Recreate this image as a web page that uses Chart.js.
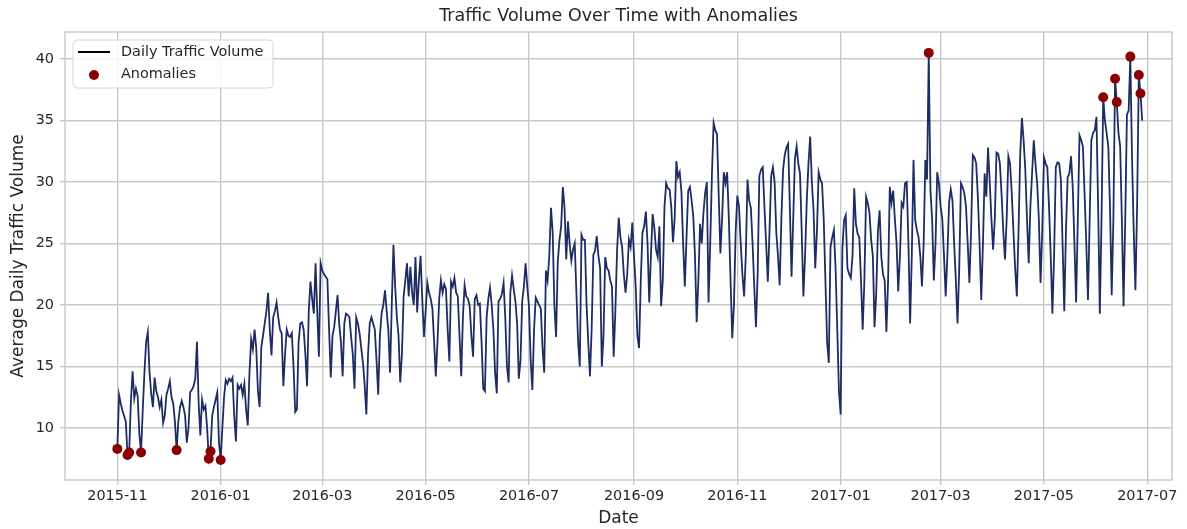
<!DOCTYPE html>
<html>
<head>
<meta charset="utf-8">
<title>Traffic Volume Over Time with Anomalies</title>
<script src="https://cdn.jsdelivr.net/npm/chart.js@4.4.1/dist/chart.umd.min.js"></script>
<style>
  html, body { margin: 0; padding: 0; background: #fff; }
</style>
</head>
<body>
<canvas id="trafficChart" width="1187" height="529"></canvas>
<script>
// Volumen diario desde el 2015-11-01 (una línea por semana, de lunes a domingo)
const fechaInicio = '2015-11-01';
const volumenDiario = [
  8.3,
  12.7, 12.0, 11.4, 11.0, 10.5, 7.8, 8.0,
  12.2, 14.6, 12.4, 13.2, 12.6, 9.5, 8.0,
  11.5, 14.5, 17.0, 17.8, 14.5, 12.8, 11.7,
  14.1, 13.0, 12.5, 11.7, 12.3, 10.4, 11.0,
  12.7, 13.2, 13.8, 12.5, 12.0, 10.5, 8.2,
  10.5, 11.7, 12.2, 11.7, 11.0, 8.8, 10.0,
  12.9, 13.1, 13.4, 14.0, 17.0, 12.0, 9.4,
  12.3, 11.5, 11.8, 10.0, 7.5, 8.1, 11.0,
  11.7, 12.3, 12.9, 8.8, 7.4, 10.0, 12.5,
  13.9, 13.6, 14.0, 13.8, 14.1, 11.0, 8.9,
  13.5, 13.2, 13.5, 12.7, 13.6, 11.5, 10.2,
  14.5, 17.2, 16.4, 18.0, 16.5, 13.0, 11.7,
  16.6, 17.5, 18.5, 19.5, 21.0, 18.0, 15.9,
  19.0, 19.5, 20.2, 19.0, 18.0, 17.7, 13.4,
  16.0, 18.0, 17.5, 17.4, 17.7, 15.0, 11.3,
  11.5, 17.0, 18.5, 18.6, 18.0, 16.0, 13.4,
  19.5, 21.9, 20.5, 19.3, 23.4, 19.5, 15.8,
  23.4, 22.8, 22.5, 22.3, 22.1, 18.0, 14.1,
  17.5, 18.2, 19.5, 20.8, 18.4, 17.0, 14.2,
  18.5, 19.3, 19.2, 19.0, 17.4, 16.0, 13.2,
  19.0, 18.5, 17.7, 16.5, 15.3, 13.5, 11.1,
  16.0, 18.5, 19.0, 18.5, 18.0, 15.5, 12.7,
  17.5, 19.3, 20.0, 21.2, 19.5, 17.9, 14.5,
  20.0, 24.9, 21.5, 19.0, 17.5, 13.7, 16.0,
  20.7, 22.0, 23.4, 20.7, 23.1, 21.0, 20.0,
  23.9, 19.4, 22.0, 24.0, 20.5, 17.4, 19.5,
  21.8, 21.0, 20.5, 19.7, 17.0, 14.2, 17.0,
  20.5, 22.0, 21.0, 21.7, 21.3, 18.0, 15.4,
  21.9, 21.5, 22.2, 21.0, 20.7, 17.5, 14.2,
  19.0, 21.6, 20.7, 20.5, 19.9, 17.5, 15.8,
  20.5, 20.8, 20.0, 20.1, 17.0, 13.2, 13.0,
  19.0, 20.5, 21.4, 20.0, 18.0, 14.5, 12.8,
  20.3, 20.5, 20.9, 21.8, 19.0, 15.0, 13.7,
  21.0, 22.4, 21.3, 20.3, 18.5, 14.0, 15.5,
  20.3, 21.5, 23.4, 21.5, 19.9, 15.5, 13.1,
  18.0, 20.6, 20.3, 20.0, 19.7, 16.5, 14.5,
  22.8, 22.0, 24.0, 27.9, 25.9, 20.0, 17.4,
  23.5, 25.3, 26.4, 29.6, 27.9, 23.7, 26.8,
  25.0, 23.6, 24.5, 25.0, 21.0, 17.0, 15.0,
  25.7, 25.3, 25.3, 20.0, 17.0, 14.2, 18.0,
  24.1, 24.4, 25.6, 24.0, 23.0, 15.0, 17.5,
  23.9, 23.0, 22.8, 22.0, 21.5, 15.8, 19.5,
  24.4, 27.1, 25.5, 24.7, 22.5, 21.0, 22.5,
  25.3, 24.7, 26.7, 24.0, 21.5, 17.5, 16.5,
  22.0, 25.9, 26.4, 27.6, 25.0, 20.2, 24.0,
  27.4, 26.3, 24.5, 23.9, 26.4, 19.9, 22.0,
  28.0, 29.9, 29.5, 29.4, 28.0, 25.1, 27.0,
  31.7, 30.4, 30.8, 29.2, 25.0, 21.5, 25.5,
  29.3, 29.6, 28.5, 27.2, 24.0, 18.6, 22.0,
  26.6, 25.0, 27.5, 29.1, 30.0, 20.2, 25.0,
  30.6, 34.8, 34.2, 33.9, 29.0, 24.2, 27.0,
  30.8, 29.9, 30.8, 27.0, 22.0, 17.3, 20.0,
  25.9, 28.9, 28.0, 25.0, 22.5, 20.7, 24.0,
  30.2, 28.5, 27.9, 25.0, 21.5, 18.2, 22.5,
  30.5, 31.0, 31.2, 28.0, 25.0, 21.9, 26.0,
  30.5, 31.2, 30.0, 25.9, 24.0, 21.6, 27.0,
  31.0, 32.2, 32.8, 33.1, 28.0, 22.3, 27.0,
  31.9, 32.9, 31.5, 30.7, 26.0, 20.7, 24.0,
  28.5, 31.5, 33.7, 30.0, 27.7, 23.0, 26.0,
  30.8, 30.2, 29.9, 27.0, 22.0, 17.0, 15.3,
  24.7, 25.5, 26.1, 23.0, 18.0, 13.0, 11.1,
  24.5, 26.9, 27.3, 23.0, 22.5, 22.2, 24.0,
  29.5, 26.6, 25.8, 25.5, 22.0, 18.0, 22.0,
  28.8, 28.3, 27.5, 25.3, 24.0, 18.2, 21.0,
  26.0, 27.7, 23.9, 22.5, 22.0, 17.8, 22.0,
  29.6, 28.3, 29.3, 27.0, 25.0, 21.1, 24.0,
  28.3, 28.0, 29.9, 30.0, 25.0, 18.5, 24.0,
  31.8, 26.9, 26.1, 25.5, 24.0, 21.5, 25.0,
  31.8, 30.2, 40.5, 29.3, 27.0, 22.0, 25.0,
  30.8, 29.9, 28.0, 27.0, 24.0, 20.7, 24.0,
  28.3, 29.4, 28.5, 25.0, 22.0, 18.5, 23.0,
  29.9, 29.6, 29.1, 28.0, 25.0, 21.8, 26.0,
  32.2, 32.0, 31.5, 28.8, 25.0, 20.4, 25.0,
  30.7, 28.8, 32.8, 30.0, 27.0, 24.5, 27.0,
  32.4, 32.3, 31.5, 29.0, 26.0, 23.7, 27.0,
  32.1, 31.5, 29.1, 26.0, 23.0, 20.7, 26.0,
  32.3, 35.2, 33.4, 31.0, 27.0, 23.4, 28.0,
  30.7, 33.4, 31.5, 29.9, 27.0, 21.8, 26.0,
  32.0, 31.5, 31.2, 28.0, 24.0, 19.3, 24.0,
  31.2, 31.6, 31.5, 30.2, 25.0, 19.5, 26.0,
  30.4, 30.7, 32.1, 29.6, 25.0, 20.2, 27.0,
  33.8, 33.4, 32.9, 29.0, 25.0, 20.4, 27.0,
  33.4, 34.0, 34.2, 35.3, 28.0, 19.3, 27.0,
  36.9, 35.0, 34.0, 32.9, 28.0, 20.8, 27.0,
  38.4, 36.5, 34.0, 32.9, 27.0, 19.9, 27.0,
  35.5, 35.8, 40.2, 32.0, 26.0, 21.2, 28.0,
  38.7, 37.2, 35.0
];

// Días marcados como anomalías
const fechasAnomalias = [
  '2015-11-01', '2015-11-07', '2015-11-08', '2015-11-15', '2015-12-06',
  '2015-12-25', '2015-12-26', '2016-01-01', '2017-02-22', '2017-06-05',
  '2017-06-12', '2017-06-13', '2017-06-21', '2017-06-26', '2017-06-27'
];

// Marcas del eje X (cada dos meses) y del eje Y
const fechasTicks = [
  '2015-11-01', '2016-01-01', '2016-03-01', '2016-05-01', '2016-07-01', '2016-09-01',
  '2016-11-01', '2017-01-01', '2017-03-01', '2017-05-01', '2017-07-01'
];
const etiquetasTicks = [
  '2015-11', '2016-01', '2016-03', '2016-05', '2016-07', '2016-09',
  '2016-11', '2017-01', '2017-03', '2017-05', '2017-07'
];
const ticksY = [10, 15, 20, 25, 30, 35, 40];

const TITULO = 'Traffic Volume Over Time with Anomalies';
const FUENTE = "'DejaVu Sans', sans-serif";
const COLOR_TEXTO = '#262626';
const COLOR_GRID = '#c8c8c8';

function diaDesdeInicio(fecha) {
  const [a, m, d] = fecha.split('-').map(Number);
  const [a0, m0, d0] = fechaInicio.split('-').map(Number);
  return Math.round((Date.UTC(a, m - 1, d) - Date.UTC(a0, m0 - 1, d0)) / 86400000);
}

const puntosVolumen = volumenDiario.map((v, i) => ({ x: i, y: v }));
const puntosAnomalias = fechasAnomalias.map(f => {
  const dia = diaDesdeInicio(f);
  return { x: dia, y: volumenDiario[dia] };
});
const diasTicks = fechasTicks.map(diaDesdeInicio);

// Marco gris, título centrado sobre el área y leyenda arriba a la izquierda
const marcoYLeyenda = {
  id: 'marcoYLeyenda',
  beforeDatasetsDraw(chart) {
    const { ctx, chartArea: a } = chart;
    ctx.save();
    ctx.strokeStyle = COLOR_GRID;
    ctx.lineWidth = 1.4;
    ctx.strokeRect(a.left, a.top, a.right - a.left, a.bottom - a.top);
    ctx.restore();
  },
  afterDraw(chart) {
    const { ctx, chartArea: a } = chart;
    ctx.save();
    ctx.fillStyle = COLOR_TEXTO;
    ctx.font = '17.5px ' + FUENTE;
    ctx.textAlign = 'center';
    ctx.textBaseline = 'middle';
    ctx.fillText(TITULO, (a.left + a.right) / 2, 16);

    const x = 73, y = 40, w = 200, h = 48, r = 4;
    ctx.beginPath();
    ctx.moveTo(x + r, y);
    ctx.arcTo(x + w, y, x + w, y + h, r);
    ctx.arcTo(x + w, y + h, x, y + h, r);
    ctx.arcTo(x, y + h, x, y, r);
    ctx.arcTo(x, y, x + w, y, r);
    ctx.closePath();
    ctx.fillStyle = 'rgba(255,255,255,0.85)';
    ctx.fill();
    ctx.strokeStyle = '#d6d6d6';
    ctx.lineWidth = 1;
    ctx.stroke();

    ctx.strokeStyle = '#000';
    ctx.lineWidth = 2;
    ctx.beginPath();
    ctx.moveTo(78, 52);
    ctx.lineTo(110, 52);
    ctx.stroke();

    ctx.fillStyle = '#8b0000';
    ctx.beginPath();
    ctx.arc(94, 75, 5, 0, Math.PI * 2);
    ctx.fill();

    ctx.fillStyle = COLOR_TEXTO;
    ctx.font = '14.4px ' + FUENTE;
    ctx.textAlign = 'left';
    ctx.fillText('Daily Traffic Volume', 121, 52);
    ctx.fillText('Anomalies', 121, 74);
    ctx.restore();
  }
};

const ctx = document.getElementById('trafficChart').getContext('2d');
const chart = new Chart(ctx, {
  type: 'line',
  data: {
    datasets: [
      {
        type: 'scatter',
        label: 'Anomalies',
        data: puntosAnomalias,
        backgroundColor: '#8b0000',
        borderWidth: 0,
        pointRadius: 5,
        order: 1
      },
      {
        label: 'Daily Traffic Volume',
        data: puntosVolumen,
        borderColor: '#1d2c63',
        borderWidth: 1.8,
        pointRadius: 0,
        tension: 0,
        fill: false,
        order: 2
      }
    ]
  },
  options: {
    responsive: false,
    animation: false,
    devicePixelRatio: 1,
    layout: { padding: { left: 0, right: 15, top: 32, bottom: 0 } },
    plugins: {
      legend: { display: false },
      tooltip: { enabled: false },
      title: { display: false }
    },
    scales: {
      x: {
        type: 'linear',
        min: -30.9,
        max: 622.6,
        afterBuildTicks: scale => { scale.ticks = diasTicks.map(v => ({ value: v })); },
        afterFit: scale => { scale.height = 49; },
        ticks: {
          autoSkip: false,
          maxRotation: 0,
          color: COLOR_TEXTO,
          font: { family: FUENTE, size: 14.4 },
          padding: 3,
          callback: v => etiquetasTicks[diasTicks.indexOf(v)]
        },
        grid: { color: COLOR_GRID, lineWidth: 1.4, drawTicks: true, tickLength: 5, tickColor: COLOR_GRID },
        border: { display: false },
        title: {
          display: true,
          text: 'Date',
          color: COLOR_TEXTO,
          font: { family: FUENTE, size: 17 },
          padding: { top: 0, bottom: 0 }
        }
      },
      y: {
        min: 5.77,
        max: 42.2,
        afterBuildTicks: scale => { scale.ticks = ticksY.map(v => ({ value: v })); },
        afterFit: scale => { scale.width = 65; },
        ticks: {
          color: COLOR_TEXTO,
          font: { family: FUENTE, size: 14.4 },
          padding: 6
        },
        grid: { color: COLOR_GRID, lineWidth: 1.4, drawTicks: true, tickLength: 5, tickColor: COLOR_GRID },
        border: { display: false },
        title: {
          display: true,
          text: 'Average Daily Traffic Volume',
          color: COLOR_TEXTO,
          font: { family: FUENTE, size: 17 },
          padding: { top: 8, bottom: 4 }
        }
      }
    }
  },
  plugins: [marcoYLeyenda]
});
</script>
</body>
</html>
